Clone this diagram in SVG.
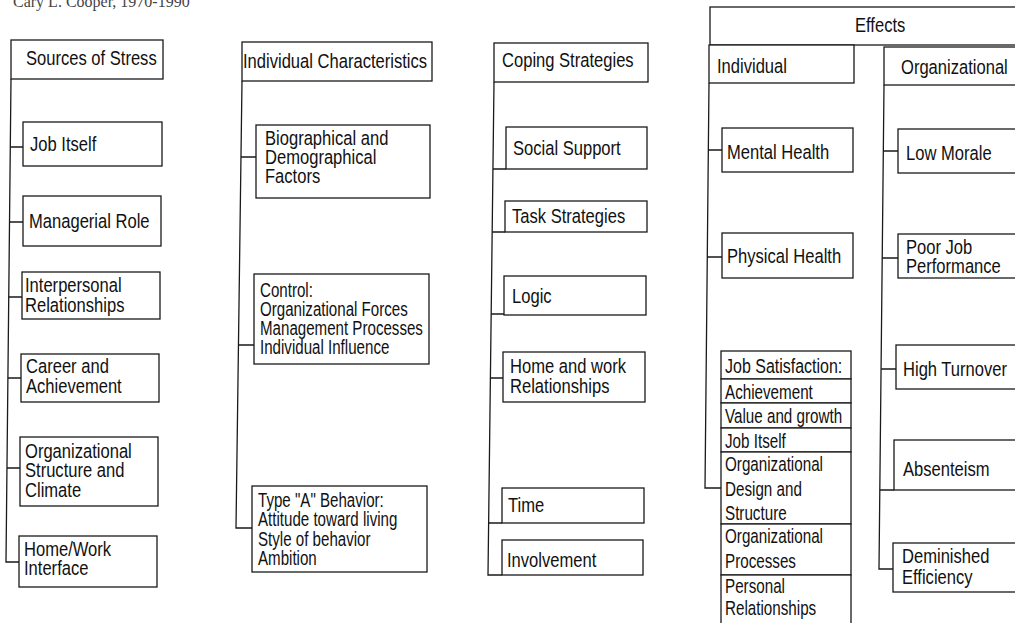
<svg xmlns="http://www.w3.org/2000/svg" width="1015" height="623" viewBox="0 0 1015 623">
<style>
  .bx{fill:#fff;stroke:#1a1a1a;stroke-width:1.3}
  .ln{fill:none;stroke:#1a1a1a;stroke-width:1.3}
  .t{font-family:"Liberation Sans",Arial,sans-serif;font-size:19.5px;fill:#111}
  .cap{font-family:"Liberation Serif","Times New Roman",serif;font-size:16px;fill:#444}
</style>
<rect width="1015" height="623" fill="#fff"/>
<text class="cap" x="13" y="7">Cary L. Cooper, 1970-1990</text>

<g id="connectors">
  <path class="ln" d="M11,79 L6,562 L19,562"/>
  <path class="ln" d="M10.3,147 H23 M9.5,222 H23 M8.7,297 H22 M7.9,378 H21 M7,468 H20"/>
  <path class="ln" d="M242,81 L236,528 L252,528"/>
  <path class="ln" d="M241,157 H256 M238.5,345 H254"/>
  <path class="ln" d="M494,82 L488,575 L502,575"/>
  <path class="ln" d="M493,169 H506 M492.2,232 H505 M491.2,314 H504 M490.4,378 H503 M488.6,523 H502"/>
  <path class="ln" d="M709,83 L705,488 L721,488"/>
  <path class="ln" d="M708.3,150 H722 M707.3,257 H722"/>
  <path class="ln" d="M884,85 L879,569 L893,569"/>
  <path class="ln" d="M883.3,151 H898 M882.2,258 H898 M881.1,369 H896 M879.8,490 H894"/>
</g>

<g id="sources-of-stress"><rect class="bx" x="11" y="40" width="152" height="39"/><text class="t" transform="translate(26,65) scale(.85,1)">Sources of Stress</text></g>
<g id="job-itself"><rect class="bx" x="23" y="122" width="139" height="44"/><text class="t" transform="translate(30,151) scale(.85,1)">Job Itself</text></g>
<g id="managerial-role"><rect class="bx" x="23" y="196" width="138" height="50"/><text class="t" transform="translate(29,228) scale(.85,1)">Managerial Role</text></g>
<g id="interpersonal"><rect class="bx" x="22" y="272" width="138" height="47"/><text class="t" transform="translate(25,292) scale(.85,1)"><tspan x="0" y="0">Interpersonal</tspan><tspan x="0" y="20">Relationships</tspan></text></g>
<g id="career"><rect class="bx" x="21" y="354" width="138" height="48"/><text class="t" transform="translate(26,373) scale(.85,1)"><tspan x="0" y="0">Career and</tspan><tspan x="0" y="20">Achievement</tspan></text></g>
<g id="org-structure"><rect class="bx" x="20" y="437" width="138" height="69"/><text class="t" transform="translate(25,458) scale(.85,1)"><tspan x="0" y="0">Organizational</tspan><tspan x="0" y="19.5">Structure and</tspan><tspan x="0" y="39">Climate</tspan></text></g>
<g id="home-work"><rect class="bx" x="19" y="536" width="138" height="51"/><text class="t" transform="translate(24,556) scale(.85,1)"><tspan x="0" y="0">Home/Work</tspan><tspan x="0" y="19.5">Interface</tspan></text></g>

<g id="individual-characteristics"><rect class="bx" x="242" y="42" width="190" height="39"/><text class="t" transform="translate(243,68) scale(.85,1)">Individual Characteristics</text></g>
<g id="biographical"><rect class="bx" x="256" y="125" width="174" height="73"/><text class="t" transform="translate(265,145) scale(.85,1)"><tspan x="0" y="0">Biographical and</tspan><tspan x="0" y="19">Demographical</tspan><tspan x="0" y="38">Factors</tspan></text></g>
<g id="control"><rect class="bx" x="254" y="274" width="175" height="90"/><text class="t" transform="translate(260,297) scale(.775,1)"><tspan x="0" y="0">Control:</tspan><tspan x="0" y="19">Organizational Forces</tspan><tspan x="0" y="38">Management Processes</tspan><tspan x="0" y="57">Individual Influence</tspan></text></g>
<g id="type-a"><rect class="bx" x="252" y="486" width="175" height="86"/><text class="t" transform="translate(258,507) scale(.775,1)"><tspan x="0" y="0">Type "A" Behavior:</tspan><tspan x="0" y="19.5">Attitude toward living</tspan><tspan x="0" y="39">Style of behavior</tspan><tspan x="0" y="58.5">Ambition</tspan></text></g>

<g id="coping-strategies"><rect class="bx" x="494" y="43" width="154" height="39"/><text class="t" transform="translate(502,67) scale(.85,1)">Coping Strategies</text></g>
<g id="social-support"><rect class="bx" x="506" y="127" width="141" height="42"/><text class="t" transform="translate(513,155) scale(.85,1)">Social Support</text></g>
<g id="task-strategies"><rect class="bx" x="505" y="201" width="142" height="31"/><text class="t" transform="translate(512,223) scale(.85,1)">Task Strategies</text></g>
<g id="logic"><rect class="bx" x="504" y="276" width="142" height="39"/><text class="t" transform="translate(512,303) scale(.85,1)">Logic</text></g>
<g id="home-and-work"><rect class="bx" x="503" y="352" width="142" height="50"/><text class="t" transform="translate(510,373) scale(.85,1)"><tspan x="0" y="0">Home and work</tspan><tspan x="0" y="20">Relationships</tspan></text></g>
<g id="time"><rect class="bx" x="502" y="488" width="142" height="35"/><text class="t" transform="translate(508,512) scale(.85,1)">Time</text></g>
<g id="involvement"><rect class="bx" x="502" y="540" width="141" height="35"/><text class="t" transform="translate(507,567) scale(.85,1)">Involvement</text></g>

<g id="effects"><rect class="bx" x="710" y="7" width="330" height="38"/><text class="t" transform="translate(855,32) scale(.85,1)">Effects</text></g>
<g id="individual"><rect class="bx" x="709" y="45" width="145" height="38"/><text class="t" transform="translate(717,73) scale(.85,1)">Individual</text></g>
<g id="organizational"><rect class="bx" x="884" y="47" width="150" height="38"/><text class="t" transform="translate(901,74) scale(.85,1)">Organizational</text></g>
<g id="mental-health"><rect class="bx" x="722" y="128" width="131" height="44"/><text class="t" transform="translate(727,159) scale(.85,1)">Mental Health</text></g>
<g id="physical-health"><rect class="bx" x="722" y="233" width="131" height="45"/><text class="t" transform="translate(727,263) scale(.85,1)">Physical Health</text></g>
<g id="job-satisfaction">
  <rect class="bx" x="721" y="351" width="130" height="28"/>
  <rect class="bx" x="721" y="379" width="130" height="24"/>
  <rect class="bx" x="721" y="403" width="130" height="25"/>
  <rect class="bx" x="721" y="428" width="130" height="24"/>
  <rect class="bx" x="721" y="452" width="130" height="72"/>
  <rect class="bx" x="721" y="524" width="130" height="51"/>
  <rect class="bx" x="721" y="575" width="130" height="60"/>
  <text class="t" transform="translate(725,373) scale(.82,1)">Job Satisfaction:</text>
  <text class="t" transform="translate(725,399) scale(.78,1)">Achievement</text>
  <text class="t" transform="translate(725,423) scale(.78,1)">Value and growth</text>
  <text class="t" transform="translate(725,448) scale(.78,1)">Job Itself</text>
  <text class="t" transform="translate(725,471) scale(.78,1)"><tspan x="0" y="0">Organizational</tspan><tspan x="0" y="25">Design and</tspan><tspan x="0" y="49">Structure</tspan></text>
  <text class="t" transform="translate(725,543) scale(.78,1)"><tspan x="0" y="0">Organizational</tspan><tspan x="0" y="25">Processes</tspan></text>
  <text class="t" transform="translate(725,593) scale(.78,1)"><tspan x="0" y="0">Personal</tspan><tspan x="0" y="22">Relationships</tspan></text>
</g>
<g id="low-morale"><rect class="bx" x="898" y="129" width="140" height="44"/><text class="t" transform="translate(906,160) scale(.85,1)">Low Morale</text></g>
<g id="poor-job-performance"><rect class="bx" x="898" y="234" width="140" height="44"/><text class="t" transform="translate(906,254) scale(.85,1)"><tspan x="0" y="0">Poor Job</tspan><tspan x="0" y="19">Performance</tspan></text></g>
<g id="high-turnover"><rect class="bx" x="896" y="345" width="140" height="44"/><text class="t" transform="translate(903,376) scale(.85,1)">High Turnover</text></g>
<g id="absenteism"><rect class="bx" x="894" y="440" width="140" height="50"/><text class="t" transform="translate(903,476) scale(.85,1)">Absenteism</text></g>
<g id="deminished-efficiency"><rect class="bx" x="893" y="543" width="140" height="49"/><text class="t" transform="translate(902,563) scale(.85,1)"><tspan x="0" y="0">Deminished</tspan><tspan x="0" y="21">Efficiency</tspan></text></g>
</svg>
